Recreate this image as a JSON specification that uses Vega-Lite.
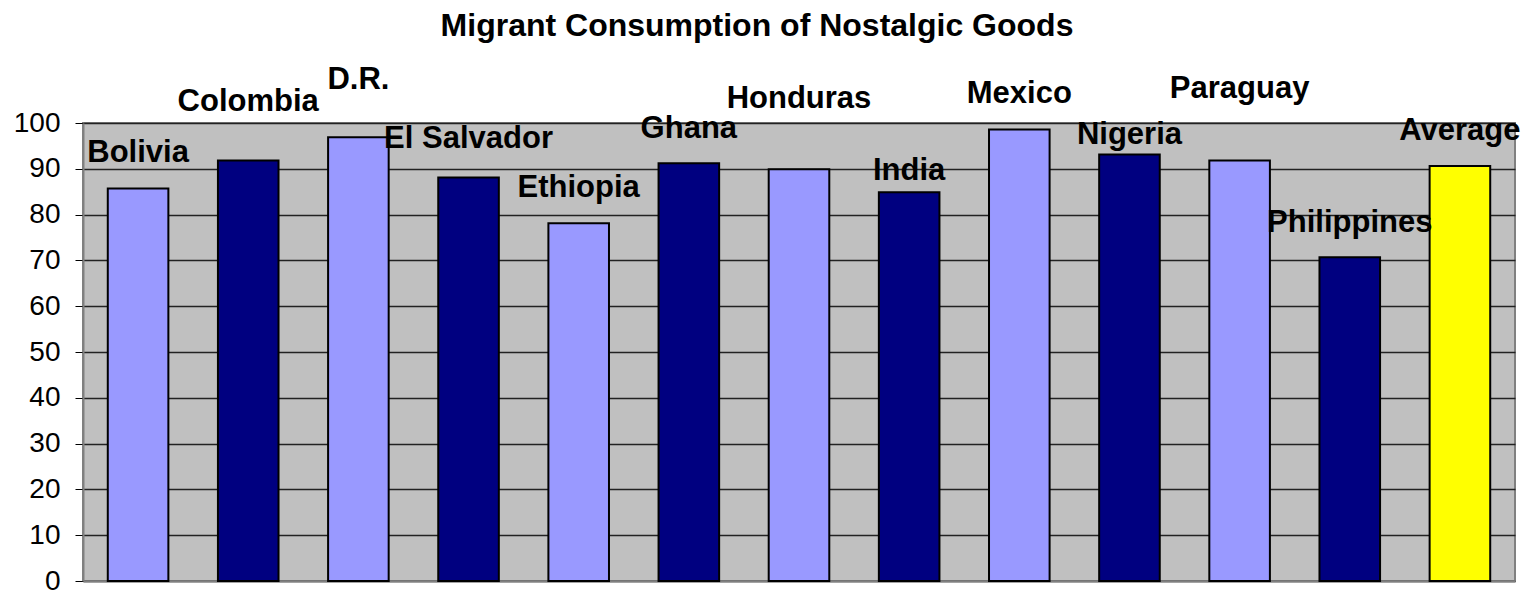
{
  "$schema": "https://vega.github.io/schema/vega-lite/v6.json",
  "width": 1432,
  "height": 458,
  "autosize": {"type": "none"},
  "padding": {"left": 83, "top": 123, "right": 18, "bottom": 12},
  "background": "#ffffff",
  "title": {
    "text": "Migrant Consumption of Nostalgic Goods",
    "font": "Liberation Sans",
    "fontSize": 32,
    "fontWeight": "bold",
    "color": "#000000",
    "anchor": "middle",
    "frame": "group",
    "baseline": "alphabetic",
    "offset": -4,
    "dx": -42
  },
  "config": {
    "view": {"fill": "#C0C0C0", "stroke": "#808080", "strokeWidth": 2}
  },
  "data": {
    "values": [
      {"Country": "Bolivia", "Value": 85.7, "LabelAt": 91.5},
      {"Country": "Colombia", "Value": 91.8, "LabelAt": 102.6},
      {"Country": "D.R.", "Value": 96.9, "LabelAt": 107.4},
      {"Country": "El Salvador", "Value": 88.1, "LabelAt": 94.5},
      {"Country": "Ethiopia", "Value": 78.1, "LabelAt": 83.8},
      {"Country": "Ghana", "Value": 91.2, "LabelAt": 96.8},
      {"Country": "Honduras", "Value": 89.9, "LabelAt": 103.2},
      {"Country": "India", "Value": 84.9, "LabelAt": 87.6},
      {"Country": "Mexico", "Value": 98.6, "LabelAt": 104.3},
      {"Country": "Nigeria", "Value": 93.1, "LabelAt": 95.4},
      {"Country": "Paraguay", "Value": 91.8, "LabelAt": 105.4},
      {"Country": "Philippines", "Value": 70.7, "LabelAt": 76.3},
      {"Country": "Average", "Value": 90.6, "LabelAt": 96.3}
    ]
  },
  "encoding": {
    "x": {
      "field": "Country",
      "type": "nominal",
      "sort": null,
      "scale": {"paddingInner": 0.45, "paddingOuter": 0.225},
      "axis": {"labels": false, "ticks": false, "title": null, "domain": true, "domainColor": "#808080", "domainWidth": 2}
    }
  },
  "layer": [
    {
      "mark": {"type": "bar", "stroke": "#000000", "strokeWidth": 2, "cornerRadius": 0},
      "encoding": {
        "y": {
          "field": "Value",
          "type": "quantitative",
          "scale": {"domain": [0, 100], "nice": false, "clamp": false},
          "axis": {
            "values": [0, 10, 20, 30, 40, 50, 60, 70, 80, 90, 100],
            "title": null,
            "grid": true,
            "gridColor": "#222222",
            "gridWidth": 1.3,
            "gridOpacity": 1,
            "domain": true,
            "domainColor": "#808080",
            "domainWidth": 2,
            "ticks": true,
            "tickColor": "#000000",
            "tickSize": 8,
            "tickWidth": 1,
            "labelFont": "Liberation Sans",
            "labelFontSize": 28,
            "labelColor": "#000000",
            "labelPadding": 15,
            "labelBaseline": "middle",
            "labelOverlap": false
          }
        },
        "color": {
          "field": "Country",
          "type": "nominal",
          "legend": null,
          "scale": {
            "domain": ["Bolivia", "Colombia", "D.R.", "El Salvador", "Ethiopia", "Ghana", "Honduras", "India", "Mexico", "Nigeria", "Paraguay", "Philippines", "Average"],
            "range": ["#9999FF", "#000080", "#9999FF", "#000080", "#9999FF", "#000080", "#9999FF", "#000080", "#9999FF", "#000080", "#9999FF", "#000080", "#FFFF00"]
          }
        }
      }
    },
    {
      "mark": {
        "type": "text",
        "font": "Liberation Sans",
        "fontSize": 31,
        "fontWeight": "bold",
        "color": "#000000",
        "baseline": "alphabetic",
        "align": "center",
        "clip": false
      },
      "encoding": {
        "y": {"field": "LabelAt", "type": "quantitative"},
        "text": {"field": "Country", "type": "nominal"}
      }
    }
  ]
}
